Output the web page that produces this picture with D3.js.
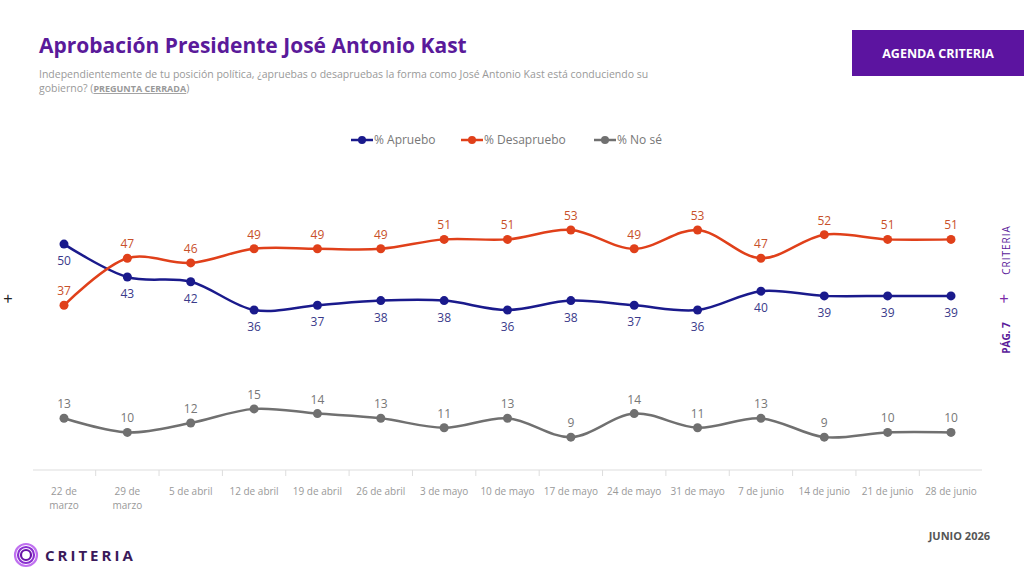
<!DOCTYPE html>
<html><head><meta charset="utf-8">
<script src="https://cdn.jsdelivr.net/npm/d3@7"></script>
<style>body{margin:0;background:#fff;font-family:Montserrat,"Open Sans",Lato,sans-serif}</style>
</head><body><svg id="c" width="1024" height="572"></svg>
<script>
const categories=["22 de marzo","29 de marzo","5 de abril","12 de abril","19 de abril","26 de abril","3 de mayo","10 de mayo","17 de mayo","24 de mayo","31 de mayo","7 de junio","14 de junio","21 de junio","28 de junio"];
const apruebo=[50,43,42,36,37,38,38,36,38,37,36,40,39,39,39];
const desapruebo=[37,47,46,49,49,49,51,51,53,49,53,47,52,51,51];
const nose=[13,10,12,15,14,13,11,13,9,14,11,13,9,10,10];
const seriesNames=["% Apruebo","% Desapruebo","% No sé"];
const colors=["#1a1a8c","#e0401a","#707070"];

const svg=d3.select("#c");
const F="'Open Sans',sans-serif";
svg.append("text").attr("x",39).attr("y",53).attr("fill","#5a1a9a").attr("font-size",21).attr("font-weight",700).attr("font-family",F).text("Aprobación Presidente José Antonio Kast");
svg.append("text").attr("x",39).attr("y",78).attr("fill","#999").attr("font-size",10.5).attr("font-family",F).text("Independientemente de tu posición política, ¿apruebas o desapruebas la forma como José Antonio Kast está conduciendo su");
const t2=svg.append("text").attr("x",39).attr("y",92).attr("fill","#999").attr("font-size",10.5).attr("font-family",F);
t2.append("tspan").text("gobierno? (");
t2.append("tspan").attr("font-weight",700).attr("text-decoration","underline").attr("font-size",9).text("PREGUNTA CERRADA");
t2.append("tspan").text(")");
svg.append("rect").attr("x",852).attr("y",30).attr("width",172).attr("height",46).attr("fill","#5c14a0");
svg.append("text").attr("x",938).attr("y",58).attr("text-anchor","middle").attr("fill","#fff").attr("font-size",12.5).attr("font-weight",700).attr("font-family",F).text("AGENDA CRITERIA");

const x=d3.scalePoint().domain(categories).range([64,951]);
const y=d3.scaleLinear().domain([0,60]).range([479.5,197]);
const step=x.step();

// axis
svg.append("line").attr("x1",33).attr("x2",982).attr("y1",470).attr("y2",470).attr("stroke","#ddd");
categories.forEach((c,i)=>{
  if(i>0) svg.append("line").attr("x1",x(c)-step/2).attr("x2",x(c)-step/2).attr("y1",470).attr("y2",476).attr("stroke","#ddd");
  const words=c.split(" ");
  const lines=i<2?[words.slice(0,2).join(" "),words[2]]:[c];
  lines.forEach((l,k)=>svg.append("text").attr("x",x(c)).attr("y",495+k*14).attr("text-anchor","middle").attr("fill","#999").attr("font-size",10).attr("font-family",F).text(l));
});

const data=[apruebo,desapruebo,nose];
const line=d3.line().x((d,i)=>x(categories[i])).y(d=>y(d)).curve(d3.curveCatmullRom.alpha(0.5));
data.forEach((s,si)=>{
  svg.append("path").attr("d",line(s)).attr("fill","none").attr("stroke",colors[si]).attr("stroke-width",2.5);
  s.forEach((v,i)=>{
    svg.append("circle").attr("cx",x(categories[i])).attr("cy",y(v)).attr("r",4.5).attr("fill",colors[si]);
    const dy=si===0?21:-10;
    svg.append("text").attr("x",x(categories[i])).attr("y",y(v)+dy).attr("text-anchor","middle").attr("fill",si===0?"#3a3a8a":si===1?"#c8502a":"#777").attr("font-size",12).attr("font-family",F).text(v);
  });
});

// legend
const lx=[351,461,594];
seriesNames.forEach((n,i)=>{
  svg.append("line").attr("x1",lx[i]).attr("x2",lx[i]+22).attr("y1",140).attr("y2",140).attr("stroke",colors[i]).attr("stroke-width",2.5);
  svg.append("circle").attr("cx",lx[i]+11).attr("cy",140).attr("r",4).attr("fill",colors[i]);
  svg.append("text").attr("x",lx[i]+23).attr("y",144).attr("fill","#777").attr("font-size",12).attr("font-family",F).text(n);
});

// decorations
svg.append("text").attr("x",8).attr("y",305).attr("text-anchor","middle").attr("font-size",18).attr("fill","#222").text("+");
svg.append("text").attr("x",1004).attr("y",305).attr("text-anchor","middle").attr("font-size",18).attr("fill","#7a2aa8").text("+");
svg.append("text").attr("transform","translate(1010,250) rotate(-90)").attr("text-anchor","middle").attr("font-size",10).attr("fill","#5a1a9a").attr("font-family",F).attr("letter-spacing",1).text("CRITERIA");
svg.append("text").attr("transform","translate(1010,338) rotate(-90)").attr("text-anchor","middle").attr("font-size",10).attr("fill","#5a1a9a").attr("font-weight",700).attr("font-family",F).text("PÁG. 7");
svg.append("text").attr("x",990).attr("y",540).attr("text-anchor","end").attr("font-size",11).attr("font-weight",700).attr("fill","#555").attr("font-family",F).text("JUNIO 2026");
// logo
[11,8,5].forEach((r,i)=>svg.append("circle").attr("cx",26).attr("cy",555).attr("r",r).attr("fill","none").attr("stroke",["#c070f0","#8a30d0","#6a14a8"][i]).attr("stroke-width",2.2));
svg.append("text").attr("x",45).attr("y",561).attr("font-size",15).attr("font-weight",700).attr("letter-spacing",3).attr("fill","#3a1a5a").attr("font-family",F).text("CRITERIA");
</script></body></html>
